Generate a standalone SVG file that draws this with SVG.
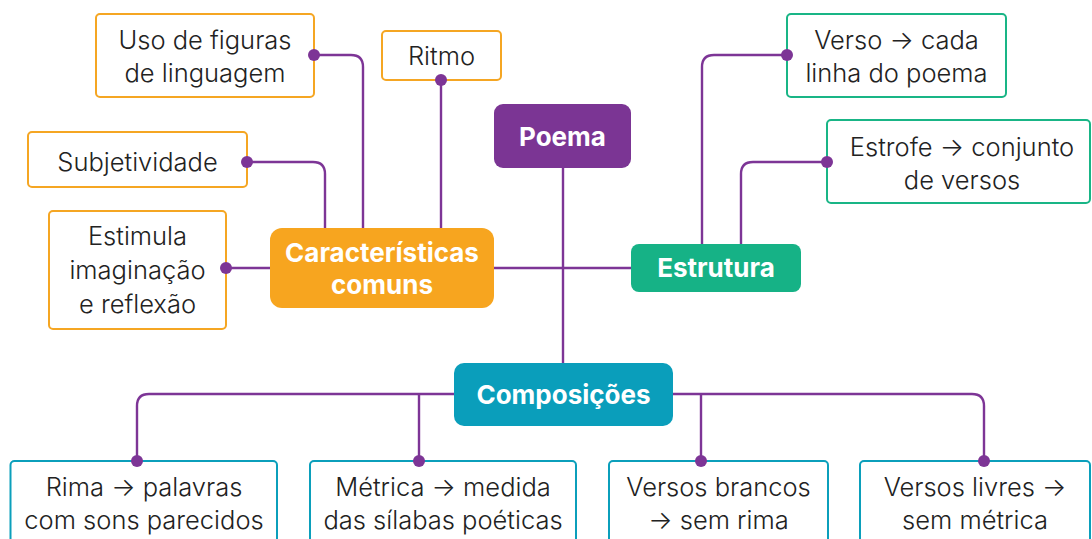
<svg xmlns="http://www.w3.org/2000/svg" width="1092" height="539" viewBox="0 0 1092 539">
<style>
.t{font-family:Inter,"Open Sans","Liberation Sans",sans-serif;font-size:25.5px;font-weight:300;fill:#222;text-anchor:middle}
.b{font-family:Inter,"Liberation Sans",sans-serif;font-size:26px;font-weight:700;fill:#fff;text-anchor:middle}
.o{fill:#fff;stroke:#F5A623;stroke-width:2}
.g{fill:#fff;stroke:#19B586;stroke-width:2}
.c{fill:#fff;stroke:#0B9FBB;stroke-width:2}
.ln{fill:none;stroke:#7D3596;stroke-width:2.4}
.d{fill:#7D3596}
</style>
<rect width="1092" height="539" fill="#fff"/>
<g id="connectors">
<path class="ln" d="M314,55 H351 Q363,55 363,67 V228"/>
<path class="ln" d="M441,80 V228"/>
<path class="ln" d="M247,162 H313 Q325,162 325,174 V228"/>
<path class="ln" d="M226,268 H270"/>
<path class="ln" d="M494,268 H631"/>
<path class="ln" d="M563,168 V363"/>
<path class="ln" d="M787,55 H714 Q702,55 702,67 V244"/>
<path class="ln" d="M827,162 H753 Q741,162 741,174 V244"/>
<path class="ln" d="M454,394 H149 Q137,394 137,406 V460"/>
<path class="ln" d="M419,394 V460"/>
<path class="ln" d="M673,394 H972 Q984,394 984,406 V460"/>
<path class="ln" d="M701,394 V460"/>
</g>
<g id="poema">
<rect x="494" y="104" width="137" height="64" rx="9" fill="#7B3594"/>
<text class="b" x="562.5" y="146">Poema</text>
</g>
<g id="caracteristicas">
<rect x="270" y="228" width="224" height="80" rx="12" fill="#F7A51F"/>
<text class="b" x="382" y="262">Características</text>
<text class="b" x="382" y="294">comuns</text>
</g>
<g id="estrutura">
<rect x="631" y="244" width="170" height="48" rx="8" fill="#16B286"/>
<text class="b" x="716" y="277">Estrutura</text>
</g>
<g id="composicoes">
<rect x="454" y="363" width="219" height="63" rx="10" fill="#0A9EBB"/>
<text class="b" x="563.5" y="404">Composições</text>
</g>
<g id="uso">
<rect class="o" x="96" y="14" width="218" height="83" rx="4"/>
<text class="t" x="205" y="48.5">Uso de figuras</text>
<text class="t" x="205" y="81.5">de linguagem</text>
<circle class="d" cx="314" cy="55" r="6"/>
</g>
<g id="ritmo">
<rect class="o" x="382" y="31" width="119" height="49" rx="4"/>
<text class="t" x="441.5" y="64.5">Ritmo</text>
<circle class="d" cx="441" cy="80" r="6"/>
</g>
<g id="subjetividade">
<rect class="o" x="28" y="132" width="219" height="55" rx="4"/>
<text class="t" x="137.5" y="170.5">Subjetividade</text>
<circle class="d" cx="247" cy="162" r="6"/>
</g>
<g id="estimula">
<rect class="o" x="49" y="211" width="177" height="118" rx="4"/>
<text class="t" x="137.5" y="244.5">Estimula</text>
<text class="t" x="137.5" y="278.5">imaginação</text>
<text class="t" x="137.5" y="312.5">e reflexão</text>
<circle class="d" cx="226" cy="268" r="6"/>
</g>
<g id="verso">
<rect class="g" x="787" y="14" width="219" height="83" rx="4"/>
<text class="t" x="896.5" y="48.5">Verso → cada</text>
<text class="t" x="896.5" y="81.5">linha do poema</text>
<circle class="d" cx="787" cy="55" r="6"/>
</g>
<g id="estrofe">
<rect class="g" x="827" y="120" width="263" height="83" rx="4"/>
<text class="t" x="962" y="155.5">Estrofe → conjunto</text>
<text class="t" x="962" y="188.5">de versos</text>
<circle class="d" cx="827" cy="162" r="6"/>
</g>
<g id="rima">
<rect class="c" x="10.5" y="461" width="266.5" height="90" rx="4"/>
<text class="t" x="144" y="495.5">Rima → palavras</text>
<text class="t" x="144" y="529">com sons parecidos</text>
<circle class="d" cx="137" cy="461" r="6"/>
</g>
<g id="metrica">
<rect class="c" x="310" y="461" width="266" height="90" rx="4"/>
<text class="t" x="443" y="495.5">Métrica → medida</text>
<text class="t" x="443" y="529">das sílabas poéticas</text>
<circle class="d" cx="419" cy="461" r="6"/>
</g>
<g id="brancos">
<rect class="c" x="609" y="461" width="219" height="90" rx="4"/>
<text class="t" x="718.5" y="495.5">Versos brancos</text>
<text class="t" x="718.5" y="529">→ sem rima</text>
<circle class="d" cx="701" cy="461" r="6"/>
</g>
<g id="livres">
<rect class="c" x="860" y="461" width="230" height="90" rx="4"/>
<text class="t" x="975" y="495.5">Versos livres →</text>
<text class="t" x="975" y="529">sem métrica</text>
<circle class="d" cx="984" cy="461" r="6"/>
</g>
</svg>
